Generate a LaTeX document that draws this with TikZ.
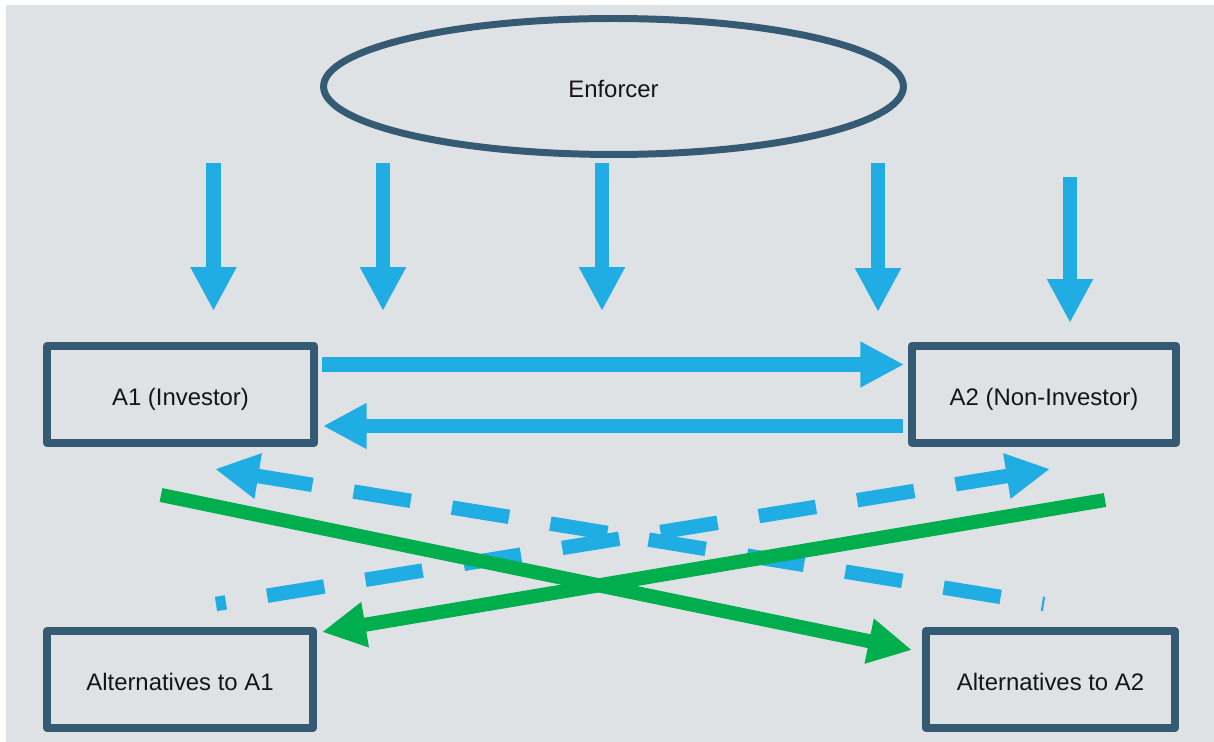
\documentclass[tikz,border=0pt]{standalone}
\usepackage{fontspec}
\setmainfont{Liberation Sans}
\usetikzlibrary{arrows.meta,shapes.geometric,calc}
\definecolor{bgpanel}{HTML}{DFE2E5}
\definecolor{frameblue}{HTML}{345A74}
\definecolor{flowblue}{HTML}{1FADE4}
\definecolor{altgreen}{HTML}{00AE4D}
\definecolor{labeltext}{HTML}{151515}

\begin{document}
\begin{tikzpicture}[x=0.02cm,y=-0.02cm,
  labelfont/.style={font=\fontsize{13.6}{16}\selectfont,text=labeltext,
    text height=12.2pt,text depth=0pt},
  agentbox/.style={draw=frameblue,line width=4.5pt,line join=round,
    minimum height=1.94cm,inner sep=0pt,labelfont},
  headtip/.style={-{Triangle[length=24.9pt,width=24.4pt]}},
  flowarrow/.style={draw=flowblue,line width=8.2pt,headtip},
  tiearrow/.style={flowarrow,dash pattern=on 32.9pt off 23.8pt},
  altarrow/.style={draw=altgreen,line width=8pt,headtip}
]
% canvas and panel
\useasboundingbox (0,0) rectangle (1214,742);
\fill[white] (0,0) rectangle (1214,742);
\fill[bgpanel] (6,5) rectangle (1214,742);

% enforcer
\node[draw=frameblue,line width=3.97pt,ellipse,minimum width=11.6cm,
  minimum height=2.72cm,inner sep=0pt,labelfont] (enf) at (613.5,86.5) {Enforcer};

% agents and their alternatives
\node[agentbox,minimum width=5.34cm] (a1) at (180.5,394.5) {A1 (Investor)};
\node[agentbox,minimum width=5.28cm] (a2) at (1044,394.5) {A2 (Non-Investor)};
\node[agentbox,minimum width=5.32cm] (alt1) at (180,679.5) {Alternatives to A1};
\node[agentbox,minimum width=4.98cm] (alt2) at (1050.5,679.5) {Alternatives to A2};

% enforcement pressure from above
\coordinate (p1s) at (213.5,163); \coordinate (p1e) at (213.5,311);
\coordinate (p2s) at (383,163);   \coordinate (p2e) at (383,311);
\coordinate (p3s) at (602,163);   \coordinate (p3e) at (602,311);
\coordinate (p4s) at (878,163);   \coordinate (p4e) at (878,312);
\coordinate (p5s) at (1070,177);  \coordinate (p5e) at (1070,323);
\foreach \i in {1,...,5} {\draw[flowarrow] (p\i s) -- (p\i e);}

% exchanges between the agents
\draw[flowarrow] ($(a1.east)+(4,-30)$) -- ($(a2.west)+(-4,-30)$);
\draw[flowarrow] ($(a2.west)+(-5,31.5)$) -- ($(a1.east)+(5,31.5)$);

% dashed ties
\coordinate (t1s) at (1044,604); \coordinate (t1e) at (215,469);
\coordinate (t2s) at (216,604);  \coordinate (t2e) at (1050,469);
\draw[tiearrow,dash phase=31.7pt] (t1s) -- (t1e);
\draw[tiearrow,dash phase=27.2pt] (t2s) -- (t2e);

% exits to the alternatives
\coordinate (g1s) at (161,495);  \coordinate (g1e) at (912,650);
\coordinate (g2s) at (1105,500); \coordinate (g2e) at (322,632);
\draw[altarrow] (g1s) -- (g1e);
\draw[altarrow] (g2s) -- (g2e);
\end{tikzpicture}
\end{document}
